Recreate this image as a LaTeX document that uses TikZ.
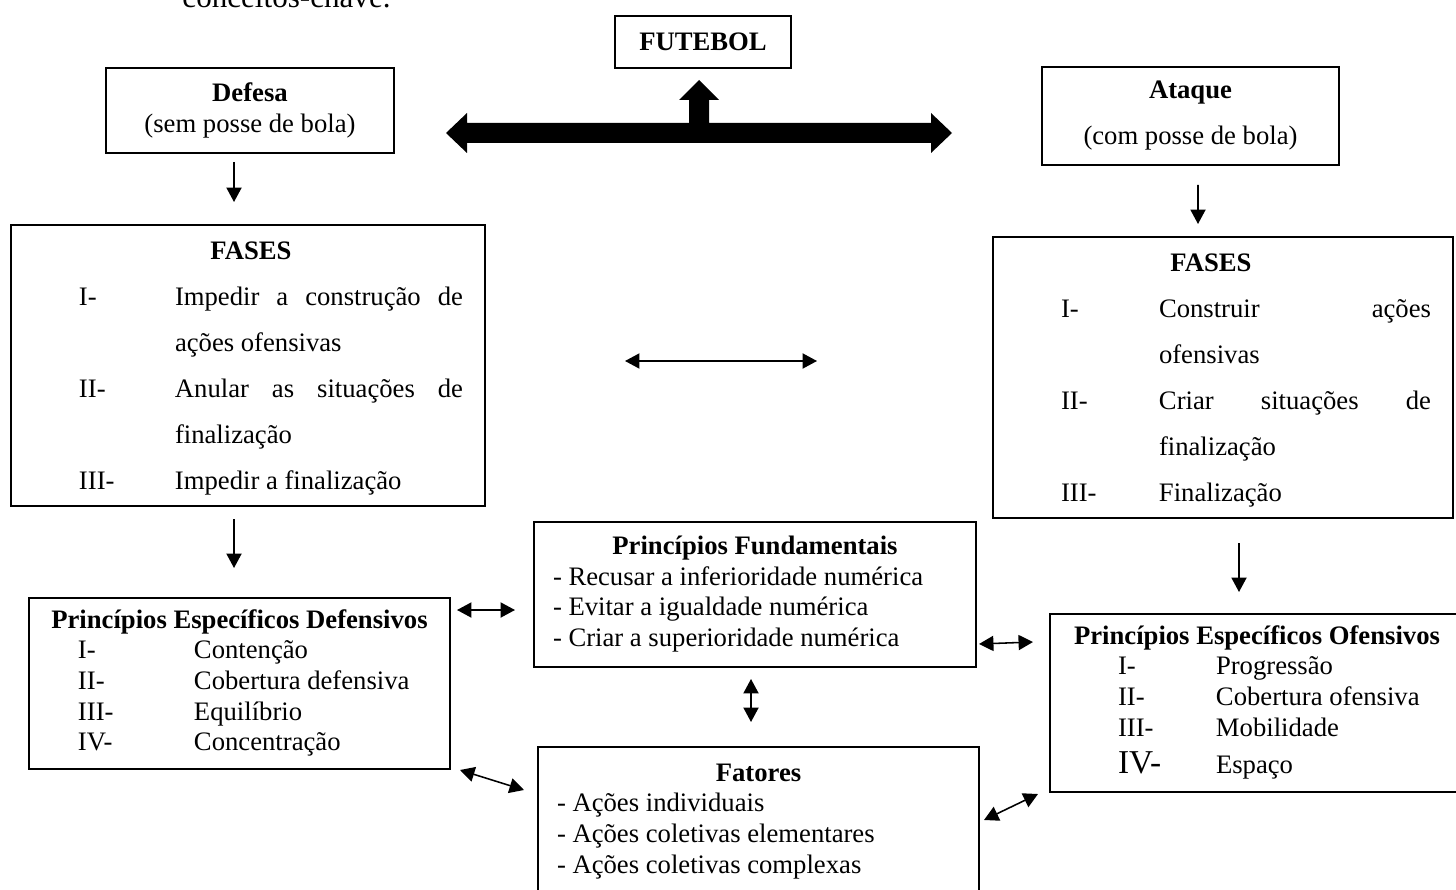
\documentclass[tikz,border=0pt]{standalone}
\usepackage{fontspec}
\setmainfont{Liberation Serif}
\usepackage{array}
\usetikzlibrary{arrows.meta, positioning, calc}
\newdimen\pxu
\pxu=0.45pt

\begin{document}
\begin{tikzpicture}[x=0.45pt, y=-0.45pt,
    >={Triangle[length=6.5pt, width=6.8pt]},
    box/.style={draw, line width=0.9pt, inner sep=0pt, anchor=north west},
    single/.style={font=\fontsize{12}{13.8}\selectfont},
    wide/.style={font=\fontsize{12}{20.7}\selectfont},
    link/.style={->, line width=0.7pt},
    twoway/.style={<->, line width=0.7pt}]
  \useasboundingbox (0,0) rectangle (1456,890);

  % text line cut by the top edge
  \node[anchor=base west, inner sep=0pt, font=\fontsize{14}{16}\selectfont]
    (intro) at (182,8) {conceitos-chave.};

  % top of the map
  \node[box, single, minimum width=176\pxu, minimum height=52\pxu]
    (futebol) at (614,15) {\textbf{FUTEBOL}};
  \node[box, single, align=center, minimum width=288\pxu, minimum height=85\pxu]
    (defesa) at (105,67) {\textbf{Defesa}\\(sem posse de bola)};
  \node[box, wide, align=center, minimum width=297\pxu, minimum height=98\pxu]
    (ataque) at (1041,66) {\textbf{Ataque}\\(com posse de bola)};

  % block arrow under FUTEBOL
  \fill (446,133) -- (467,113) -- (467,123) -- (689,123) -- (689,100)
    -- (679,100) -- (699,80) -- (719,100) -- (709,100) -- (709,123)
    -- (931,123) -- (931,113) -- (952,133) -- (931,153) -- (931,143)
    -- (467,143) -- (467,153) -- cycle;

  % phases
  \node[box, wide, minimum height=281\pxu] (fasesL) at (10,224) {%
    \begin{tabular}{@{\hspace{68\pxu}}p{96\pxu}@{}l@{\hspace{22\pxu}}}
      \multicolumn{2}{@{}c@{}}{\textbf{FASES}\hspace*{-6\pxu}}\\
      I-   & \makebox[288\pxu][s]{Impedir a construção de}\\
           & ações ofensivas\\
      II-  & \makebox[288\pxu][s]{Anular as situações de}\\
           & finalização\\
      III- & Impedir a finalização
    \end{tabular}};
  \node[box, wide, minimum height=281\pxu] (fasesR) at (992,236) {%
    \begin{tabular}{@{\hspace{68\pxu}}p{98\pxu}@{}l@{\hspace{22\pxu}}}
      \multicolumn{2}{@{}c@{}}{\textbf{FASES}\hspace*{24\pxu}}\\
      I-   & \makebox[272\pxu][s]{Construir ações}\\
           & ofensivas\\
      II-  & \makebox[272\pxu][s]{Criar situações de}\\
           & finalização\\
      III- & Finalização
    \end{tabular}};

  % principles
  \node[box, single, minimum height=171\pxu] (ped) at (28,597) {%
    \begin{tabular}{@{\hspace{49\pxu}}p{116\pxu}@{}p{256\pxu}@{}}
      \multicolumn{2}{@{}c@{}}{\textbf{Princípios Específicos Defensivos}}\\
      I-   & Contenção\\
      II-  & Cobertura defensiva\\
      III- & Equilíbrio\\
      IV-  & Concentração
    \end{tabular}};
  \node[box, single, minimum height=145\pxu] (pf) at (533,521) {%
    \begin{tabular}{@{\hspace{19\pxu}}p{423\pxu}@{}}
      \multicolumn{1}{@{}c@{}}{\textbf{Princípios Fundamentais}}\\
      - Recusar a inferioridade numérica\\
      - Evitar a igualdade numérica\\
      - Criar a superioridade numérica
    \end{tabular}};
  \node[box, single, minimum height=178\pxu] (peo) at (1049,613) {%
    \begin{tabular}{@{\hspace{68\pxu}}p{98\pxu}@{}p{248\pxu}@{}}
      \multicolumn{2}{@{}c@{}}{\textbf{Princípios Específicos Ofensivos}}\\
      I-   & Progressão\\
      II-  & Cobertura ofensiva\\
      III- & Mobilidade\\[3pt]
      {\fontsize{15}{16}\selectfont IV-} & Espaço
    \end{tabular}};
  \node[box, single, minimum height=148\pxu] (fat) at (537,746) {%
    \begin{tabular}{@{\hspace{19\pxu}}p{422\pxu}@{}}
      \multicolumn{1}{@{}c@{}}{\textbf{Fatores}}\\
      - Ações individuais\\
      - Ações coletivas elementares\\
      - Ações coletivas complexas
    \end{tabular}};

  % connectors
  \draw[link] ([shift={(-16,8)}]defesa.south) -- ([shift={(-14,-22)}]fasesL.north);
  \draw[link] ([shift={(-14,12)}]fasesL.south) -- ([shift={(-5.5,-29)}]ped.north);
  \draw[link] ([shift={(7.5,19)}]ataque.south) -- ([shift={(-25,-12)}]fasesR.north);
  \draw[link] ([shift={(16,24)}]fasesR.south) -- ([shift={(-18,-21)}]peo.north);

  \coordinate (midL) at (625,361);
  \coordinate (midR) at (817,361);
  \draw[twoway] (midL) -- (midR);

  \draw[twoway] ([shift={(6,13)}]ped.north east) -- ([shift={(-18,89)}]pf.north west);
  \draw[twoway] ([shift={(2,-24)}]pf.south east) -- ([shift={(-16,29)}]peo.north west);
  \draw[twoway] ([shift={(-4,11)}]pf.south) -- ([shift={(-7.5,-24)}]fat.north);
  \draw[twoway] ([shift={(9,0)}]ped.south east) -- ([shift={(-13,44)}]fat.north west);
  \draw[twoway] ([shift={(4,74)}]fat.north east) -- ([shift={(-11,1)}]peo.south west);
\end{tikzpicture}
\end{document}
